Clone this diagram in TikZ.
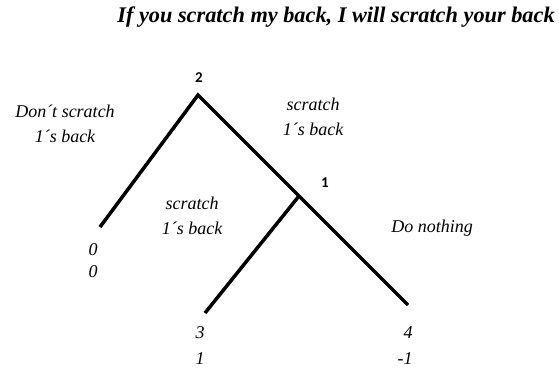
\documentclass[tikz,border=0pt]{standalone}
\usepackage{fontspec}
\setmainfont{Liberation Serif}
\newfontfamily\lblfont{Carlito}
\begin{document}
\begin{tikzpicture}[x=1pt,y=-1pt,
  edge/.style={line width=3.5pt,line join=miter},
  lbl/.style={font=\itshape\fontsize{18}{25}\selectfont,align=center,inner sep=0pt},
  pay/.style={font=\itshape\fontsize{18}{21}\selectfont,inner sep=0pt},
  player/.style={font=\lblfont\bfseries\fontsize{15}{18}\selectfont,inner sep=0pt}]
\useasboundingbox (0,0) rectangle (559,368);
\node[font=\bfseries\itshape\fontsize{22.3}{26}\selectfont,inner sep=0pt] (title) at (336,17) {If you scratch my back, I will scratch your back};
\coordinate (n2) at (198,95);
\coordinate (n1) at (299,196);
\coordinate (l0) at (100,227);
\coordinate (l3) at (205,313);
\coordinate (l4) at (408,305);
\draw[edge] (l0) -- (n2) -- (l4);
\draw[edge] (n1) -- (l3);
\node[player] (p2) at (199,78) {2};
\node[player] (p1) at (325,183) {1};
\node[lbl] (a1) at (65,124) {Don´t scratch\\1´s back};
\node[lbl] (a2) at (313,117) {scratch\\1´s back};
\node[lbl] (a3) at (192,216) {scratch\\1´s back};
\node[lbl] (a4) at (432,228) {Do nothing};
\node[pay] (u0a) at (93,250) {0};
\node[pay] (u0b) at (93,272) {0};
\node[pay] (u3a) at (200,333) {3};
\node[pay] (u3b) at (200,359) {1};
\node[pay] (u4a) at (408,333) {4};
\node[pay] (u4b) at (405,359) {-1};
\end{tikzpicture}
\end{document}
